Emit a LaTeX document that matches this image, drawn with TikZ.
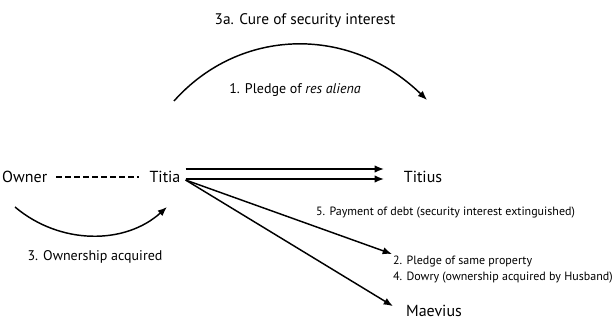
\documentclass[tikz,border=0pt]{standalone}
\usepackage{fontspec}
\setmainfont{PT Sans}
\usetikzlibrary{positioning}
\usetikzlibrary{calc}
\usetikzlibrary{arrows.meta}

\begin{document}
\begin{tikzpicture}[x=0.75pt, y=0.75pt, >={Latex[length=7pt,width=5.5pt]}, line width=1.1pt]
\useasboundingbox (0,0) rectangle (613,325);

%---------------------------------------
% Parties
%---------------------------------------
\node[anchor=west, font=\fontsize{12}{14}\selectfont] (owner)   at (-3,148)  {Owner};
\node[font=\fontsize{12}{14}\selectfont]              (titia)   at (165,148) {Titia};
\node[font=\fontsize{12}{14}\selectfont]              (titius)  at (423,148) {Titius};
\node[font=\fontsize{12}{14}\selectfont]              (maevius) at (434,14)  {Maevius};

%---------------------------------------
% Labels
%---------------------------------------
\node[font=\fontsize{11.5}{14}\selectfont] (cure) at (305,304) {3a. Cure of security interest};
\node[font=\fontsize{10.5}{12}\selectfont] (pledgeA) at (295,235) {1. Pledge of \textit{res aliena}};
\node[font=\fontsize{10.5}{12}\selectfont] (acquired) at (95,68) {3. Ownership acquired};
\node[anchor=west, font=\fontsize{9}{11}\selectfont] (payment) at (311,112) {5. Payment of debt (security interest extinguished)};
\node[anchor=west, font=\fontsize{9}{11}\selectfont] (pledgeB) at (388,64) {2. Pledge of same property};
\node[anchor=west, font=\fontsize{9}{11}\selectfont] (dowry) at (388,47) {4. Dowry (ownership acquired by Husband)};

% free ends of the curved arrows
\coordinate (arcA) at (174,224);
\coordinate (arcB) at (427,225);
\coordinate (bowA) at (15,118);
\coordinate (bowB) at (167,118);
\coordinate (tipB) at (392,71);

%---------------------------------------
% Connectors
%---------------------------------------
\draw[dash pattern=on 4.5pt off 2.25pt, shorten <=3pt, shorten >=4pt] (owner.east) -- (titia.west);

\draw[->, shorten >=11pt] ([yshift=6pt]titia.east) -- ([yshift=6pt]titius.west);
\draw[->, shorten >=11pt] ([yshift=-1.5pt]titia.east) -- ([yshift=-1.5pt]titius.west);

\draw[->] ([yshift=-2.25pt]titia.east) -- (tipB);
\draw[->, shorten >=7pt] ([yshift=-2.25pt]titia.east) -- (maevius.west);

\draw[->] (arcA) .. controls (240,298) and (350,300) .. (arcB);
\draw[->] (bowA) .. controls (60,80) and (125,80) .. (bowB);

\end{tikzpicture}
\end{document}
